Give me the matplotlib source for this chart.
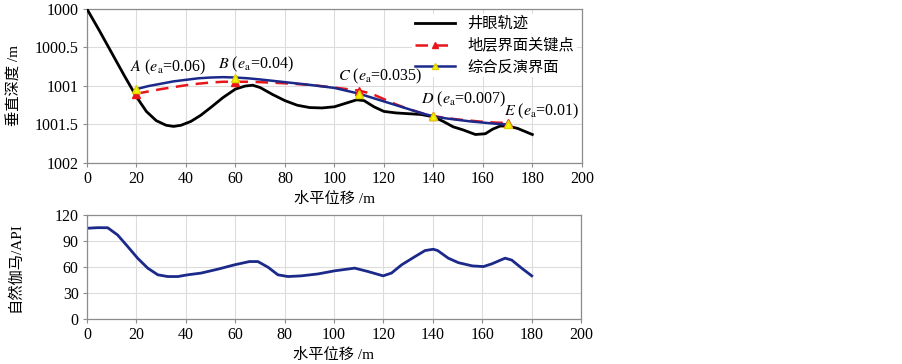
import matplotlib
matplotlib.use("Agg")
import matplotlib.pyplot as plt

plt.rcParams["font.family"] = ["Liberation Serif", "Noto Sans CJK SC"]
plt.rcParams["mathtext.fontset"] = "stix"
plt.rcParams["axes.unicode_minus"] = False

# ---- top panel: well trajectory and interfaces (depth, m) ----
well_x = [0, 5, 10, 15, 20, 24, 28, 32, 35, 38, 42, 46, 50, 55, 60, 64, 67, 70,
          75, 80, 85, 90, 95, 100, 105, 109, 112, 116, 120, 125, 130, 135, 140,
          144, 148, 152, 157, 161, 164, 167, 170, 174, 177, 180]
well_d = [1000.0, 1000.28, 1000.57, 1000.86, 1001.14, 1001.33, 1001.45, 1001.51,
          1001.525, 1001.51, 1001.46, 1001.38, 1001.28, 1001.15, 1001.04, 1001.0,
          1000.99, 1001.02, 1001.11, 1001.19, 1001.25, 1001.28, 1001.285, 1001.27,
          1001.22, 1001.18, 1001.19, 1001.27, 1001.33, 1001.35, 1001.36, 1001.37,
          1001.40, 1001.46, 1001.53, 1001.57, 1001.63, 1001.62, 1001.56, 1001.52,
          1001.52, 1001.55, 1001.59, 1001.63]

strat_x = [20, 25, 30, 35, 40, 45, 50, 55, 60, 65, 70, 80, 90, 100, 105, 110,
           115, 120, 125, 130, 135, 140, 145, 150, 155, 160, 165, 170]
strat_d = [1001.10, 1001.07, 1001.04, 1001.015, 1000.99, 1000.97, 1000.955,
           1000.945, 1000.945, 1000.945, 1000.95, 1000.965, 1000.985, 1001.02,
           1001.04, 1001.06, 1001.10, 1001.17, 1001.24, 1001.30, 1001.35, 1001.39,
           1001.415, 1001.435, 1001.45, 1001.465, 1001.475, 1001.48]

inv_x = [20, 25, 30, 35, 40, 45, 50, 55, 60, 65, 70, 80, 90, 100, 110, 120, 130,
         135, 140, 145, 150, 155, 160, 165, 170]
inv_d = [1001.04, 1001.0, 1000.97, 1000.94, 1000.92, 1000.90, 1000.89, 1000.885,
         1000.89, 1000.90, 1000.915, 1000.95, 1000.985, 1001.025, 1001.10, 1001.20,
         1001.30, 1001.35, 1001.395, 1001.42, 1001.44, 1001.46, 1001.475, 1001.49,
         1001.50]

key_x = [20, 60, 110, 140, 170]
key_strat_d = [1001.10, 1000.945, 1001.06, 1001.39, 1001.48]
key_inv_d = [1001.04, 1000.89, 1001.10, 1001.395, 1001.50]
key_names = ["A", "B", "C", "D", "E"]
key_ea = ["0.06", "0.04", "0.035", "0.007", "0.01"]
label_x = [17.2, 52.8, 101.6, 135.2, 168.4]
label_d = [1000.76, 1000.725, 1000.877, 1001.18, 1001.33]

# ---- bottom panel: natural gamma (API) ----
gr_x = [0, 4.3, 8.4, 12.4, 16.5, 20.5, 24.6, 28.7, 32.7, 36.8, 40.8, 46.2, 53,
        59.7, 65.8, 69.2, 73.3, 77.3, 81.4, 86.8, 93.5, 100.3, 108.4, 113.8,
        119.9, 123.3, 127.4, 132.8, 136.9, 140.2, 142, 146.3, 150.4, 156, 160.5,
        163.9, 169.3, 172, 176, 180.1]
gr_v = [104.7, 105.4, 105.3, 97, 83.6, 70.2, 58.7, 51, 49, 49, 51, 53, 57.5,
        62.5, 66.3, 66.3, 59.8, 51, 49, 49.8, 52, 55.6, 58.7, 54.8, 49.8, 53,
        62.5, 72, 79, 80.5, 79, 70.2, 65, 61.3, 60.5, 63.6, 70.2, 68, 58.7, 49.8]

BLUE = "#1b2a8a"
RED = "#e8161b"
YELLOW = "#f5f500"
GRID = "#dcdcdc"
FRAME = "#8c8c8c"
FS = 11.5

fig = plt.figure(figsize=(9.03, 3.64), dpi=100)
ax1 = fig.add_axes([0.0963, 0.5522, 0.548, 0.4231])
ax2 = fig.add_axes([0.0963, 0.1236, 0.547, 0.2857])

ax1.plot(well_x, well_d, color="black", lw=2.0, label="井眼轨迹", zorder=3)
ax1.plot(strat_x, strat_d, color=RED, lw=1.8, ls=(0, (5, 3)), zorder=4)
ax1.plot(inv_x, inv_d, color=BLUE, lw=1.8, zorder=5)
ax1.plot(key_x, key_strat_d, ls="none", marker="^", ms=5.5, color=RED, zorder=6)
ax1.plot(key_x, key_inv_d, ls="none", marker="^", ms=5.5, color=YELLOW,
         markeredgecolor="#e0d000", zorder=7)
# legend proxies
ax1.plot([], [], color=RED, lw=1.8, ls=(0, (5, 3)), marker="^", ms=5,
         label="地层界面关键点")
ax1.plot([], [], color=BLUE, lw=1.8, marker="^", ms=5, markerfacecolor=YELLOW,
         markeredgecolor="#e0d000", label="综合反演界面")

leg = ax1.legend(loc="upper right", fontsize=11, frameon=True, fancybox=False,
                 edgecolor="none", facecolor="white", borderaxespad=0.3,
                 borderpad=0.2, handlelength=2.6, labelspacing=0.45,
                 framealpha=1)
leg.set_zorder(8)

for name, ea, tx, td in zip(key_names, key_ea, label_x, label_d):
    ax1.text(tx, td, rf"${name}$ ($e_{{\mathrm{{a}}}}$=" + ea + ")",
             ha="left", va="center", fontsize=FS, zorder=10)

ax1.set_xlim(0, 200)
ax1.set_ylim(1002, 1000)
ax1.set_xticks(range(0, 201, 20))
ax1.set_yticks([1000, 1000.5, 1001, 1001.5, 1002])
ax1.set_yticklabels(["1000", "1000.5", "1001", "1001.5", "1002"])
ax1.set_xlabel("水平位移 /m", fontsize=11)
ax1.set_ylabel("垂直深度 /m", fontsize=11)
ax1.xaxis.set_label_coords(0.5, -0.19)
ax1.yaxis.set_label_coords(-0.131, 0.5)

ax2.plot(gr_x, gr_v, color=BLUE, lw=2.0)
ax2.set_xlim(0, 200)
ax2.set_ylim(0, 120)
ax2.set_xticks(range(0, 201, 20))
ax2.set_yticks(range(0, 121, 30))
ax2.set_xlabel("水平位移 /m", fontsize=11)
ax2.set_ylabel("自然伽马/API", fontsize=11)
ax2.xaxis.set_label_coords(0.5, -0.275)
ax2.yaxis.set_label_coords(-0.131, 0.5)

for ax in (ax1, ax2):
    ax.grid(True, color=GRID, lw=0.8)
    ax.set_axisbelow(True)
    for sp in ax.spines.values():
        sp.set_color(FRAME)
        sp.set_linewidth(0.9)
    ax.tick_params(labelsize=FS, length=3, width=0.8, color=FRAME, pad=3)

fig.savefig("out.png", dpi=100)
